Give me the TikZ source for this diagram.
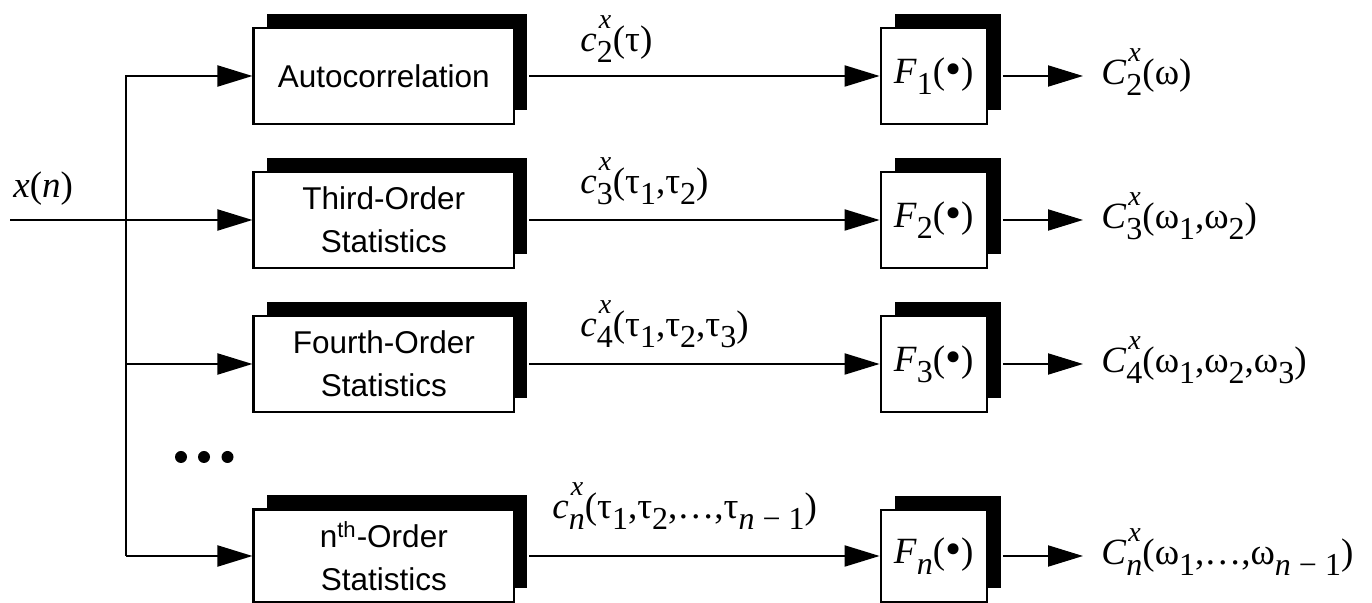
\documentclass[tikz,border=0pt]{standalone}
\usepackage{fontspec}
\setmainfont{Liberation Serif}
\newfontfamily\sansf{Liberation Sans}
\usetikzlibrary{arrows.meta,shadows}
\newcommand\Sub[1]{\raisebox{-5.5pt}{\fontsize{16}{16}\selectfont #1}}
\newcommand\SupSub[2]{\rlap{\raisebox{11.5pt}{\fontsize{14}{14}\selectfont\kern1pt #1}}\Sub{#2}}
\newcommand\bul{\raisebox{-0.8pt}{\fontsize{23}{23}\selectfont •}}
\begin{document}
\begin{tikzpicture}[x=0.5pt,y=-0.5pt,
  stat/.style={draw=black, line width=1.1pt, fill=white, minimum width=130.25pt,
    minimum height=48pt, inner sep=0pt, align=center,
    font=\sansf\fontsize{15.75}{21.5}\selectfont,
    general shadow={fill=black, shadow xshift=6.5pt, shadow yshift=7pt}},
  fblock/.style={draw=black, line width=1.1pt, fill=white, minimum width=53pt,
    minimum height=48pt, inner sep=0pt,
    font=\fontsize{18.5}{21}\selectfont,
    general shadow={fill=black, shadow xshift=7pt, shadow yshift=7pt}},
  lab/.style={inner sep=0pt, font=\fontsize{18.5}{21}\selectfont},
  arr/.style={line width=1pt, -{Triangle[length=17.5pt,width=10.5pt]}},
  dot/.style={circle, fill=black, inner sep=0pt, minimum size=6pt}
]
\useasboundingbox (0,0) rectangle (1372,603);

% statistics blocks
\node[stat] (s1) at (383.8,76) {Autocorrelation};
\node[stat] (s2) at (383.8,220) {Third-Order\\Statistics};
\node[stat] (s3) at (383.8,364) {Fourth-Order\\Statistics};
\node[stat, minimum height=46.5pt] (s4) at (383.8,556) {n\textsuperscript{th}-Order\\Statistics};

% transform blocks
\node[fblock] (f1) at (933.7,76) {\textit{F}\Sub{1}(\bul)};
\node[fblock] (f2) at (933.7,220) {\textit{F}\Sub{2}(\bul)};
\node[fblock] (f3) at (933.7,364) {\textit{F}\Sub{3}(\bul)};
\node[fblock, minimum height=46pt] (f4) at (933.7,556) {\textit{F}\Sub{\textit{n}}(\bul)};

% input and bus
\node[lab, anchor=base west] (xn) at (13,198) {\textit{x}(\textit{n})};
\coordinate (in) at (10,220);
\coordinate (b1) at (126,76);
\coordinate (b3) at (126,364);
\coordinate (b4) at (126,556);
\draw[arr] (b4) -- (b1) -- (s1.west);
\draw[arr] (b3) -- (s3.west);
\draw[arr] (b4) -- (s4.west);
\draw[arr] (in) -- (s2.west);

% dots
\node[dot] (d1) at (181,457) {};
\node[dot] (d2) at (204,457) {};
\node[dot] (d3) at (227.5,457) {};

% middle connectors
\draw[arr] ([xshift=7pt]s1.east) -- (f1.west);
\draw[arr] ([xshift=7pt]s2.east) -- (f2.west);
\draw[arr] ([xshift=7pt]s3.east) -- (f3.west);
\draw[arr] ([xshift=7pt]s4.east) -- (f4.west);

% intermediate labels
\node[lab, anchor=base west] (c1) at (580,52) {\textit{c}\SupSub{\textit{x}}{2}(τ)};
\node[lab, anchor=base west] (c2) at (580,194) {\textit{c}\SupSub{\textit{x}}{3}(τ\Sub{1},τ\Sub{2})};
\node[lab, anchor=base west] (c3) at (580,337) {\textit{c}\SupSub{\textit{x}}{4}(τ\Sub{1},τ\Sub{2},τ\Sub{3})};
\node[lab, anchor=base west] (c4) at (552,519) {\textit{c}\SupSub{\textit{x}}{\textit{n}}(τ\Sub{1},τ\Sub{2},…,τ\Sub{\textit{n} − 1})};

% outputs
\coordinate (t1) at (1083,76);
\coordinate (t2) at (1083,220);
\coordinate (t3) at (1083,364);
\coordinate (t4) at (1083,556);
\draw[arr] ([xshift=7.5pt]f1.east) -- (t1);
\draw[arr] ([xshift=7.5pt]f2.east) -- (t2);
\draw[arr] ([xshift=7.5pt]f3.east) -- (t3);
\draw[arr] ([xshift=7.5pt]f4.east) -- (t4);
\node[lab, anchor=base west] (o1) at (1101,85) {\textit{C}\SupSub{\textit{x}}{2}(ω)};
\node[lab, anchor=base west] (o2) at (1101,229) {\textit{C}\SupSub{\textit{x}}{3}(ω\Sub{1},ω\Sub{2})};
\node[lab, anchor=base west] (o3) at (1101,373) {\textit{C}\SupSub{\textit{x}}{4}(ω\Sub{1},ω\Sub{2},ω\Sub{3})};
\node[lab, anchor=base west] (o4) at (1101,565) {\textit{C}\SupSub{\textit{x}}{\textit{n}}(ω\Sub{1},…,ω\Sub{\textit{n} − 1})};
\end{tikzpicture}
\end{document}
